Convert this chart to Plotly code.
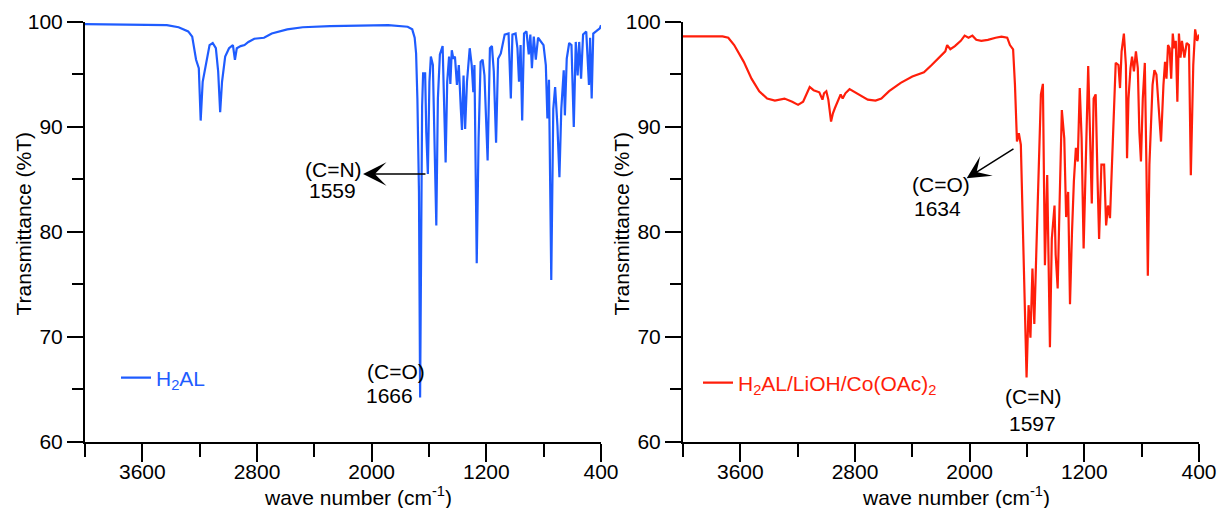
import plotly.graph_objects as go

# ---------------- data ----------------
wn_h2al = [4000, 3800, 3600, 3429, 3347, 3280, 3252, 3225, 3206, 3193, 3179, 3158, 3131, 3109,
           3087, 3071, 3057, 3044, 3022, 2995, 2968, 2954, 2941, 2914, 2887, 2860, 2819, 2751,
           2697, 2589, 2481, 2291, 2020, 1885, 1749, 1717, 1700, 1690, 1681, 1675, 1670, 1662,
           1655, 1648, 1641, 1627, 1619, 1608, 1597, 1587, 1573, 1560, 1549, 1538, 1524, 1505,
           1492, 1484, 1473, 1460, 1451, 1441, 1430, 1419, 1405, 1392, 1378, 1370, 1359, 1348,
           1335, 1316, 1302, 1291, 1283, 1267, 1254, 1240, 1226, 1213, 1191, 1175, 1161, 1148,
           1132, 1118, 1099, 1083, 1072, 1045, 1029, 1018, 996, 983, 972, 961, 950, 937, 920,
           904, 893, 882, 869, 855, 839, 801, 785, 774, 763, 747, 733, 720, 704, 690, 677, 660,
           652, 639, 622, 606, 590, 576, 563, 552, 539, 525, 503, 484, 476, 465, 454, 435, 408, 400]
t_h2al = [99.8, 99.75, 99.7, 99.7, 99.5, 99.1, 98.6, 96.4, 95.6, 90.6, 94.3, 95.9, 97.8, 98.0,
          97.5, 95.3, 91.4, 94.3, 96.7, 97.5, 97.8, 96.4, 97.5, 97.7, 97.8, 98.1, 98.4, 98.5,
          98.9, 99.3, 99.5, 99.6, 99.7, 99.7, 99.55, 99.3, 98.5, 97.0, 92.7, 84.4, 83.8, 64.2,
          80.0, 92.0, 95.1, 95.1, 89.5, 85.5, 94.3, 96.7, 95.9, 87.9, 80.6, 92.7, 96.9, 97.7,
          89.5, 86.6, 94.3, 96.7, 94.1, 97.3, 96.5, 96.7, 94.0, 95.9, 91.7, 89.7, 94.9, 89.8,
          94.3, 97.5, 95.9, 93.3, 95.9, 77.0, 88.9, 96.2, 96.4, 94.9, 86.8, 97.5, 97.7, 95.3,
          88.5, 96.5, 97.0, 98.0, 98.8, 98.9, 92.7, 98.8, 98.9, 97.5, 94.3, 97.8, 90.6, 98.9, 99.1,
          96.9, 98.8, 95.6, 98.6, 96.4, 98.5, 97.8, 95.9, 90.8, 94.5, 75.4, 91.7, 93.8, 90.1, 85.2, 91.7, 95.4,
          91.1, 96.5, 98.0, 97.8, 90.0, 98.1, 94.9, 98.1, 94.6, 98.8, 99.1, 94.0, 98.5, 92.7, 98.9, 99.1, 99.4, 99.7]

wn_co = [4000, 3832, 3724, 3684, 3643, 3576, 3522, 3468, 3413, 3359, 3292, 3238, 3197, 3162, 3135,
         3116, 3089, 3049, 3027, 3016, 3000, 2986, 2967, 2954, 2940, 2913, 2900, 2886, 2867, 2838,
         2811, 2765, 2711, 2657, 2616, 2562, 2481, 2400, 2319, 2265, 2211, 2170, 2157, 2135, 2103,
         2062, 2035, 2008, 1981, 1954, 1919, 1873, 1819, 1778, 1738, 1719, 1697, 1684, 1670, 1657,
         1643, 1627, 1616, 1603, 1589, 1576, 1562, 1549, 1535, 1519, 1503, 1489, 1475, 1459, 1440,
         1427, 1408, 1400, 1386, 1373, 1357, 1340, 1327, 1313, 1300, 1286, 1273, 1259, 1246, 1232,
         1219, 1205, 1189, 1173, 1162, 1148, 1135, 1121, 1108, 1097, 1081, 1062, 1048, 1035, 1021,
         1008, 994, 981, 962, 951, 940, 924, 910, 902, 892, 878, 867, 854, 840, 827, 816, 805, 792,
         778, 767, 757, 746, 735, 724, 711, 697, 681, 665, 648, 637, 627, 616, 605, 594, 583, 573,
         562, 551, 540, 529, 519, 502, 486, 470, 457, 440, 427, 413, 400]
t_co = [98.63, 98.6, 98.63, 98.5, 97.8, 96.2, 94.6, 93.4, 92.7, 92.5, 92.7, 92.4, 92.1, 92.4, 93.2,
        93.8, 93.5, 93.3, 92.6, 93.2, 93.4, 92.6, 90.5, 91.3, 91.8, 92.6, 93.1, 92.7, 93.2, 93.6,
        93.4, 93.0, 92.6, 92.5, 92.7, 93.4, 94.2, 94.8, 95.2, 95.9, 96.6, 97.2, 97.8, 97.4, 97.7,
        98.2, 98.7, 98.5, 98.7, 98.3, 98.2, 98.3, 98.5, 98.6, 98.5, 97.8, 97.4, 94.0, 88.6, 89.4,
        88.3, 80.0, 73.0, 66.1, 73.0, 69.9, 76.5, 71.2, 78.1, 86.4, 93.1, 94.1, 76.8, 85.4, 69.0,
        79.3, 82.5, 77.8, 74.6, 82.5, 91.6, 88.9, 81.4, 83.8, 73.1, 80.0, 84.8, 88.0, 86.7, 93.7,
        88.9, 78.4, 88.0, 95.8, 90.2, 82.7, 92.7, 93.1, 85.1, 79.3, 86.4, 86.4, 80.6, 82.5, 81.3,
        86.4, 91.1, 96.1, 95.9, 93.7, 97.2, 98.9, 95.9, 87.0, 92.7, 95.6, 96.7, 95.3, 97.2, 95.6, 89.5, 86.7, 92.7,
        96.1, 86.4, 75.8, 86.4, 89.5, 94.0, 95.4, 95.0, 91.8, 88.6, 94.0, 96.2, 94.6, 97.8, 97.5, 94.6, 98.9, 97.5,
        98.2, 92.4, 98.9, 96.6, 98.2, 96.6, 98.0, 97.8, 85.4, 95.9, 99.3, 98.2, 98.8]

x_major = [3600, 2800, 2000, 1200, 400]
x_minor = [4000, 3200, 2400, 1600, 800]
y_major = [60, 70, 80, 90, 100]
y_minor = [65, 75, 85, 95]

FONT = "Liberation Sans, Arial, Helvetica, sans-serif"
BLUE = "#1f5cff"
RED = "#ff1e0a"
W, H = 1219, 508

fig = go.Figure()
fig.add_trace(go.Scatter(x=wn_h2al, y=t_h2al, mode="lines", name="H<sub>2</sub>AL",
                         line=dict(color=BLUE, width=2.2), xaxis="x", yaxis="y", legend="legend"))
fig.add_trace(go.Scatter(x=wn_co, y=t_co, mode="lines", name="H<sub>2</sub>AL/LiOH/Co(OAc)<sub>2</sub>",
                         line=dict(color=RED, width=2.2), xaxis="x2", yaxis="y2", legend="legend2"))


def xax(dom, anchor):
    return dict(domain=dom, anchor=anchor, range=[4000, 400], tickmode="array", tickvals=x_major,
                ticks="outside", ticklen=18, tickwidth=2, tickcolor="black", automargin=False,
                ticklabelstandoff=-8,
                showline=True, linecolor="black", linewidth=2, showgrid=False, zeroline=False,
                tickfont=dict(family=FONT, size=21, color="black"),
                minor=dict(tickmode="array", tickvals=x_minor, ticks="outside", ticklen=13,
                           tickwidth=2, tickcolor="black", showgrid=False))


def yax(dom, anchor):
    return dict(domain=dom, anchor=anchor, range=[60, 100], tickmode="array", tickvals=y_major,
                ticks="outside", ticklen=16, tickwidth=2, tickcolor="black", automargin=False,
                showline=True, linecolor="black", linewidth=2, showgrid=False, zeroline=False,
                tickfont=dict(family=FONT, size=21, color="black"),
                minor=dict(tickmode="array", tickvals=y_minor, ticks="outside", ticklen=11,
                           tickwidth=2, tickcolor="black", showgrid=False))


ydom = [(H - 441.5) / H, (H - 22) / H]
fig.update_layout(
    width=W, height=H, margin=dict(l=0, r=0, t=0, b=0, autoexpand=False),
    paper_bgcolor="white", plot_bgcolor="white",
    font=dict(family=FONT, size=21, color="black"),
    xaxis=xax([85 / W, 601 / W], "y"),
    yaxis=yax(ydom, "x"),
    xaxis2=xax([683 / W, 1199 / W], "y2"),
    yaxis2=yax(ydom, "x2"),
    legend=dict(x=116 / W, y=(H - 378) / H, xanchor="left", yanchor="middle",
                bgcolor="rgba(0,0,0,0)", borderwidth=0,
                font=dict(family=FONT, size=21, color=BLUE)),
    legend2=dict(x=698 / W, y=(H - 383) / H, xanchor="left", yanchor="middle",
                 bgcolor="rgba(0,0,0,0)", borderwidth=0,
                 font=dict(family=FONT, size=21, color=RED)),
    showlegend=True,
)

txt = dict(showarrow=False, xanchor="left", yanchor="middle",
           font=dict(family=FONT, size=21, color="black"))

# axis titles
for xc in (357.6, 955.6):
    fig.add_annotation(text="wave number (cm<sup>-1</sup>)", xref="paper", yref="paper",
                       x=xc / W, y=(H - 496) / H, showarrow=False, xanchor="center", yanchor="middle",
                       font=dict(family=FONT, size=21, color="black"))
for xc in (23, 621):
    fig.add_annotation(text="Transmittance (%T)", xref="paper", yref="paper", textangle=-90,
                       x=xc / W, y=(H - 223.5) / H, showarrow=False, xanchor="center", yanchor="middle",
                       font=dict(family=FONT, size=21, color="black"))

# left panel peak labels
fig.add_annotation(text="(C=O)", x=2047, y=66.63, xref="x", yref="y", **txt)
fig.add_annotation(text="1666", x=2053, y=64.43, xref="x", yref="y", **txt)
fig.add_annotation(text="(C=N)", x=2479, y=85.98, xref="x", yref="y", **txt)
fig.add_annotation(text="1559", x=2454, y=83.89, xref="x", yref="y", **txt)
fig.add_annotation(text="", x=2060, y=85.5, ax=1614, ay=85.5, xref="x", yref="y", axref="x", ayref="y",
                   showarrow=True, arrowhead=3, arrowsize=2.6, arrowwidth=1.5, arrowcolor="black")

# right panel peak labels
fig.add_annotation(text="(C=O)", x=2416, y=84.46, xref="x2", yref="y2", **txt)
fig.add_annotation(text="1634", x=2405, y=82.22, xref="x2", yref="y2", **txt)
fig.add_annotation(text="(C=N)", x=1767, y=64.26, xref="x2", yref="y2", **txt)
fig.add_annotation(text="1597", x=1739, y=61.76, xref="x2", yref="y2", **txt)
fig.add_annotation(text="", x=2021, y=85.1, ax=1684, ay=88.0, xref="x2", yref="y2", axref="x2", ayref="y2",
                   showarrow=True, arrowhead=3, arrowsize=2.6, arrowwidth=1.5, arrowcolor="black")

fig.write_html("out.html", config={"displayModeBar": False},
               post_script="document.body.style.margin='0';document.documentElement.style.overflow='hidden';")
